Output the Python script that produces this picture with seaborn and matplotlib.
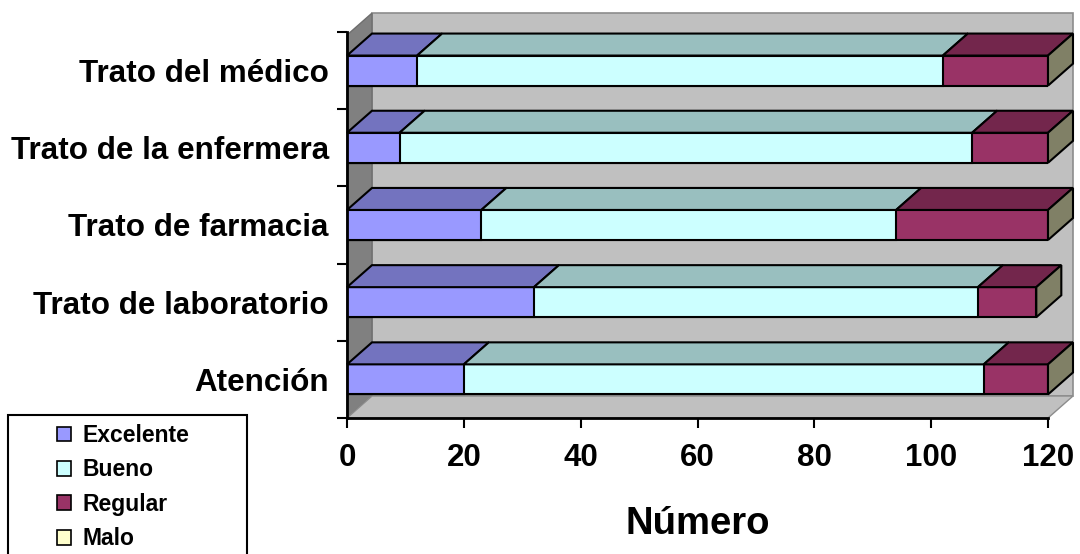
import numpy as np
import pandas as pd
import seaborn as sns
import matplotlib.pyplot as plt
from matplotlib.patches import Polygon, Rectangle, Patch

# Data
categorias = ["Trato del médico", "Trato de la enfermera", "Trato de farmacia",
              "Trato de laboratorio", "Atención"]
excelente = [12, 9, 23, 32, 20]
bueno = [90, 98, 71, 76, 89]
regular = [18, 13, 26, 10, 11]
malo = [0, 0, 0, 0, 0]
series = ["Excelente", "Bueno", "Regular", "Malo"]
x_ticks = [0, 20, 40, 60, 80, 100, 120]

# Excel-like colours: front, top (darker), side (darkest)
colores = {"Excelente": "#9999FF", "Bueno": "#CCFFFF", "Regular": "#993366", "Malo": "#FFFFCC"}
techo = {"Excelente": "#7373BF", "Bueno": "#99BFBF", "Regular": "#73264C", "Malo": "#BFBF99"}
lado_malo = "#808066"

sns.set_style("white")
plt.rcParams['font.family'] = ['Liberation Sans', 'DejaVu Sans']
plt.rcParams['font.weight'] = 'bold'
plt.rcParams['text.color'] = 'black'
plt.rcParams['axes.labelcolor'] = 'black'
plt.rcParams['xtick.color'] = 'black'
plt.rcParams['ytick.color'] = 'black'

df = pd.DataFrame({"categoria": categorias, "Excelente": excelente, "Bueno": bueno,
                   "Regular": regular, "Malo": malo})
df["fin_Excelente"] = df["Excelente"]
df["fin_Bueno"] = df["fin_Excelente"] + df["Bueno"]
df["fin_Regular"] = df["fin_Bueno"] + df["Regular"]
df["fin_Malo"] = df["fin_Regular"] + df["Malo"]

fig = plt.figure(figsize=(10.8, 5.54), dpi=100)
ax = fig.add_axes([347 / 1080, 136 / 554, 701 / 1080, 386 / 554])

# front faces: overlay cumulative bars, longest first
bar_h = 0.39
for s in ["Regular", "Bueno", "Excelente"]:
    sns.barplot(data=df, x="fin_" + s, y="categoria", orient="h", color=colores[s],
                saturation=1, width=bar_h, edgecolor="black", linewidth=1.5,
                errorbar=None, ax=ax, zorder=3)

ax.set_xlim(0, 120)
ax.set_ylim(4.5, -0.5)

# depth offset of the 3D look (25 px right, 22 px up) in data units
p0 = ax.transData.transform((0, 0))
dx, dy = ax.transData.inverted().transform(p0 + np.array([25, 22]))
y0, y1 = -0.5, 4.5
y0w = -0.46  # back wall slightly lower than the front plane top

# walls and floor
back = Polygon([(dx, y0w + dy), (120 + dx, y0w + dy), (120 + dx, y1 + dy), (dx, y1 + dy)],
               facecolor="#C0C0C0", edgecolor="#8C8C8C", lw=1.2, zorder=0.5, clip_on=False)
left = Polygon([(0, y0w), (dx, y0w + dy), (dx, y1 + dy), (0, y1)],
               facecolor="#808080", edgecolor="#6E6E6E", lw=1, zorder=0.6, clip_on=False)
floor = Polygon([(0, y1), (dx, y1 + dy), (120 + dx, y1 + dy), (120, y1)],
                facecolor="#C0C0C0", edgecolor="#8C8C8C", lw=1, zorder=0.6, clip_on=False)
for p in [back, left, floor]:
    ax.add_patch(p)

# top and side faces of each bar
for i, row in df.iterrows():
    yt, yb = i - bar_h / 2, i + bar_h / 2
    start = 0
    for s in ["Excelente", "Bueno", "Regular"]:
        end = row["fin_" + s]
        ax.add_patch(Polygon([(start, yt), (end, yt), (end + dx, yt + dy), (start + dx, yt + dy)],
                             facecolor=techo[s], edgecolor="black", lw=1.5, zorder=3,
                             clip_on=False))
        start = end
    end = row["fin_Malo"]
    ax.add_patch(Polygon([(end, yt), (end, yb), (end + dx, yb + dy), (end + dx, yt + dy)],
                         facecolor=lado_malo, edgecolor="black", lw=1.5, zorder=3,
                         clip_on=False))

# axes styling
for sp in ["top", "right"]:
    ax.spines[sp].set_visible(False)
for sp in ["left", "bottom"]:
    ax.spines[sp].set_color("black")
    ax.spines[sp].set_linewidth(2)
    ax.spines[sp].set_zorder(4)

ax.set_xticks(x_ticks)
ax.set_xticklabels([str(t) for t in x_ticks])
ax.set_yticks(np.arange(-0.5, 5, 1), minor=True)
ax.tick_params(axis="y", which="major", left=True, length=0, pad=13, labelsize=22.6)
ax.tick_params(axis="y", which="minor", left=True, length=7, width=1.5, direction="out")
ax.tick_params(axis="x", which="major", bottom=True, length=7, width=1.5,
               direction="out", pad=11, labelsize=22.5)
ax.set_ylabel("")
ax.set_xlabel("Número", fontsize=27.5, fontweight="bold", labelpad=24)

# legend with frame running off the bottom edge
handles = [Patch(facecolor=colores[s], edgecolor="black", lw=1.2) for s in series]
fig.legend(handles, series, loc="upper left", bbox_to_anchor=(57 / 1080, 1 - 424 / 554),
           frameon=False, fontsize=16.5, handlelength=0.62, handleheight=0.62,
           handletextpad=0.5, labelspacing=0.5, borderpad=0, borderaxespad=0)
fig.add_artist(Rectangle((8 / 1080, -0.1), 239 / 1080, (554 - 415) / 554 + 0.1,
                         transform=fig.transFigure, fill=False, edgecolor="black", lw=1.5))

fig.savefig("out.png", dpi=100)
